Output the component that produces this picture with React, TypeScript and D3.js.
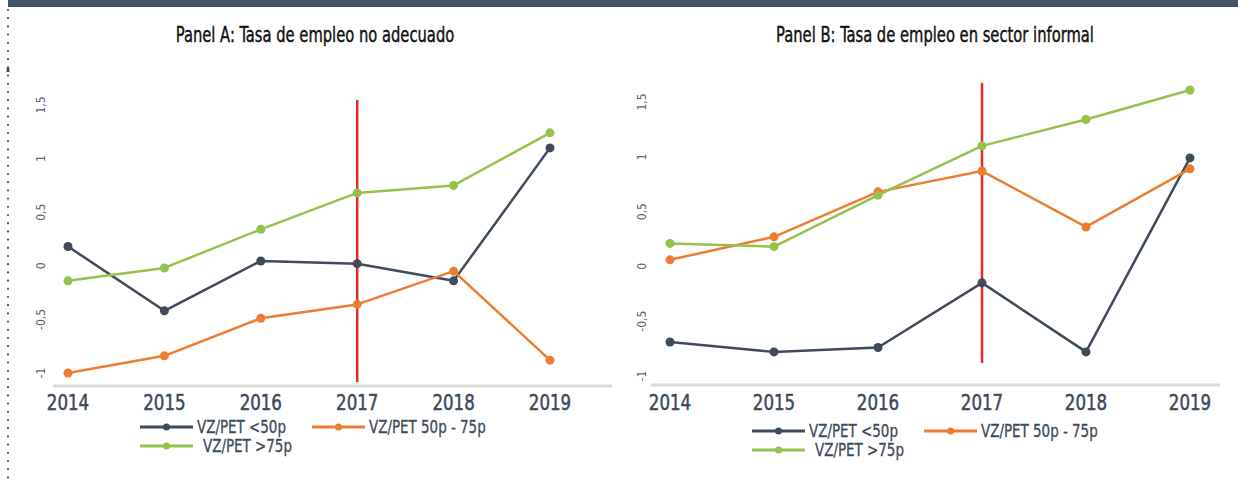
import React from 'react';
import * as d3 from 'd3';

const years = ['2014', '2015', '2016', '2017', '2018', '2019'];
const seriesNames = ['VZ/PET <50p', 'VZ/PET 50p - 75p', 'VZ/PET >75p'];
const yTicks = [-1, -0.5, 0, 0.5, 1, 1.5];
const markerYear = '2017';

// Panel A: tasa de empleo no adecuado
const panelALow = [0.18, -0.42, 0.045, 0.02, -0.14, 1.1];
const panelAMid = [-1.0, -0.84, -0.49, -0.36, -0.05, -0.88];
const panelAHigh = [-0.14, -0.02, 0.34, 0.68, 0.75, 1.24];

// Panel B: tasa de empleo en sector informal
const panelBLow = [-0.69, -0.78, -0.74, -0.15, -0.78, 0.99];
const panelBMid = [0.06, 0.27, 0.68, 0.87, 0.36, 0.89];
const panelBHigh = [0.21, 0.18, 0.65, 1.1, 1.34, 1.61];

const colors = ['#3f4b5b', '#ed7d31', '#94c24d'];
const font = "'DejaVu Sans Condensed', 'Liberation Sans Narrow', sans-serif";

// narrow text: DIN-like condensed look by squeezing horizontally
const Narrow = ({ x, y, sx, anchor = 'start', size, fill, heavy = 0, children }: any) => (
  <text
    transform={`translate(${x},${y}) scale(${sx},1)`}
    textAnchor={anchor}
    fontFamily={font}
    fontSize={size}
    fill={fill}
    stroke={fill}
    strokeWidth={heavy}
  >
    {children}
  </text>
);

type PanelProps = {
  title: string;
  titleX: number;
  series: number[][];
  xRange: [number, number];
  yRange: [number, number];
  tickX: number;
  axisX: [number, number];
  axisY: number;
  redTop: number;
  redBottom: number;
  legendX: number;
  legendY: number;
};

const Panel = (p: PanelProps) => {
  const x = d3.scalePoint<string>().domain(years).range(p.xRange);
  const y = d3.scaleLinear().domain([-1, 1.5]).range(p.yRange);
  const line = d3
    .line<number>()
    .x((_, i) => x(years[i]) as number)
    .y((d) => y(d));

  const legendItems = [
    { i: 0, dx: 0, dy: 0 },
    { i: 1, dx: 172, dy: 0 },
    { i: 2, dx: 0, dy: 19 },
  ];

  return (
    <g>
      <Narrow x={p.titleX} y={42} sx={0.78} anchor="middle" size={21} fill="#111" heavy={0.4}>
        {p.title}
      </Narrow>

      {yTicks.map((t) => (
        <text
          key={t}
          transform={`translate(${p.tickX},${y(t)}) rotate(-90)`}
          textAnchor="middle"
          dominantBaseline="middle"
          fontFamily={font}
          fontSize={12}
          fill="#5b6776"
        >
          {String(t).replace('.', ',')}
        </text>
      ))}

      <line
        x1={p.axisX[0]}
        x2={p.axisX[1]}
        y1={p.axisY}
        y2={p.axisY}
        stroke="#d9d9d9"
        strokeWidth={3}
      />

      {years.map((yr) => (
        <Narrow
          key={yr}
          x={x(yr)}
          y={410}
          sx={0.88}
          anchor="middle"
          size={21}
          fill="#3d4a5a"
          heavy={0.5}
        >
          {yr}
        </Narrow>
      ))}

      <line
        x1={x(markerYear)}
        x2={x(markerYear)}
        y1={p.redTop}
        y2={p.redBottom}
        stroke="#e8262b"
        strokeWidth={2.5}
      />

      {p.series.map((s, si) => (
        <g key={si}>
          <path
            d={line(s) || ''}
            fill="none"
            stroke={colors[si]}
            strokeWidth={2.5}
            strokeLinejoin="round"
          />
          {s.map((v, i) => (
            <circle key={i} cx={x(years[i])} cy={y(v)} r={4.5} fill={colors[si]} />
          ))}
        </g>
      ))}

      {legendItems.map(({ i, dx, dy }) => (
        <g key={i} transform={`translate(${p.legendX + dx},${p.legendY + dy})`}>
          <line x1={0} x2={53} y1={0} y2={0} stroke={colors[i]} strokeWidth={3} />
          <circle cx={26.5} cy={0} r={3.5} fill={colors[i]} />
          <Narrow x={i === 2 ? 63 : 57} y={6} sx={0.88} size={17} fill="#3d4a5a" heavy={0.3}>
            {seriesNames[i]}
          </Narrow>
        </g>
      ))}
    </g>
  );
};

export default function App() {
  const dots = d3.range(10, 480, 8.2);
  return (
    <svg
      width={1238}
      height={480}
      style={{ position: 'absolute', left: 0, top: 0, background: '#fff' }}
    >
      <rect x={8} y={0} width={1230} height={7} fill="#435263" />
      {dots.map((d) => (
        <circle key={d} cx={8} cy={d} r={1.1} fill="#435263" />
      ))}
      <rect x={6.5} y={68} width={3} height={4} fill="#435263" />

      <Panel
        title="Panel A: Tasa de empleo no adecuado"
        titleX={315}
        series={[panelALow, panelAMid, panelAHigh]}
        xRange={[68, 550]}
        yRange={[373, 105]}
        tickX={41}
        axisX={[53, 612]}
        axisY={386}
        redTop={100}
        redBottom={382}
        legendX={140}
        legendY={427}
      />
      <Panel
        title="Panel B: Tasa de empleo en sector informal"
        titleX={935}
        series={[panelBLow, panelBMid, panelBHigh]}
        xRange={[670, 1190]}
        yRange={[376, 102]}
        tickX={642}
        axisX={[651, 1220]}
        axisY={385}
        redTop={83}
        redBottom={363}
        legendX={752}
        legendY={431}
      />
    </svg>
  );
}
